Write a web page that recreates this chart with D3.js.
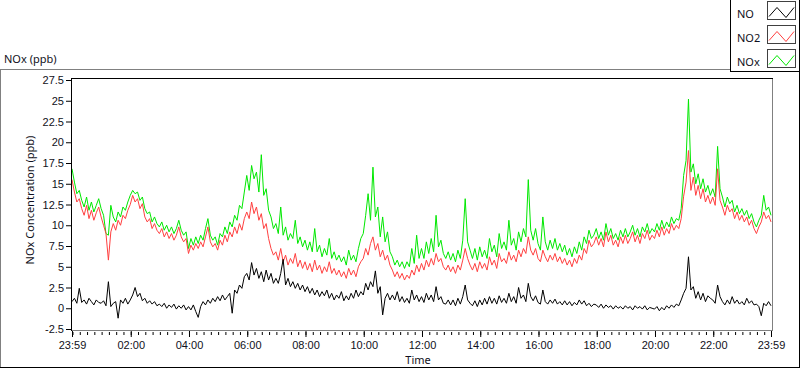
<!DOCTYPE html>
<meta charset="utf-8">
<style>
  body { margin: 0; background: #ffffff; }
  svg { display: block; font-family: "Noto Sans", "Open Sans", sans-serif; }
  .tick text { font-size: 11px; fill: #101020; }
  .lbl { font-size: 11px; fill: #101020; }
</style>
<body>
<script src="https://cdnjs.cloudflare.com/ajax/libs/d3/7.8.5/d3.min.js"></script>
<script>
// readings every 5 minutes from 23:59, one row per hour
var stepMinutes = 5;

var no = [
  0.8, 1.2, 0.6, 2.4, 0.7, 1.0, 0.5, 1.2, 0.8, 0.4, 1.0, 0.7,
  0.6, 0.9, 0.3, 3.2, 0.2, 0.6, 0.8, -1.2, 1.0, 0.6, 1.2, 0.5,
  1.0, 1.6, 2.5, 1.4, 1.8, 0.9, 1.2, 0.6, 0.9, 0.5, 0.8, 0.3,
  0.5, 0.2, 0.6, 0.0, 0.4, 0.1, 0.5, -0.1, 0.3, 0.0, 0.4, -0.2,
  0.2, -0.2, 0.4, -0.4, -1.1, 0.2, 0.8, 0.4, 1.0, 0.6, 1.2, 0.8,
  1.4, 0.9, 1.6, 1.0, 1.4, 1.8, -0.6, 2.2, 1.8, 2.8, 2.4, 3.8,
  4.2, 3.4, 5.5, 4.0, 4.8, 3.6, 4.4, 3.2, 4.6, 3.4, 4.2, 3.0,
  3.6, 3.0, 4.2, 5.9, 2.8, 3.6, 2.6, 3.2, 2.4, 3.0, 2.2, 2.8,
  2.0, 2.6, 1.8, 2.4, 1.6, 2.2, 1.4, 2.0, 1.5, 2.2, 1.2, 1.8,
  1.0, 1.6, 1.2, 2.0, 0.9, 1.5, 1.0, 1.8, 1.2, 2.2, 1.4, 2.0,
  1.6, 3.0, 2.2, 3.2, 2.6, 4.5, 1.8, 2.6, -0.8, 1.2, 1.8, 1.0,
  1.6, 1.0, 2.0, 0.8, 1.4, 0.7, 1.2, 0.6, 2.2, 1.0, 1.6, 0.8,
  1.4, 0.7, 1.8, 1.0, 1.6, 0.8, 2.6, 1.0, 1.4, 0.6, 0.5, 1.0,
  0.4, 1.0, 0.3, 1.2, 0.5, 1.4, 2.8, 1.0, 0.6, 0.3, 0.9, 0.2,
  1.0, 0.4, 1.2, 0.5, 1.4, 0.6, 1.2, 0.5, 1.5, 0.7, 1.2, 0.6,
  1.8, 0.8, 1.4, 0.6, 2.5, 1.2, 1.6, 0.8, 3.0, 1.4, 0.9, 1.5,
  0.7, 0.5, 2.2, 0.8, 0.5, 1.0, 0.6, 1.1, 0.5, 0.8, 0.4, 0.9,
  0.4, 0.8, 0.3, 0.7, 0.4, 1.0, 0.5, 0.9, 0.3, 0.6, 0.2, 0.5,
  0.4, 0.1, 0.5, 0.0, 0.4, 0.1, 0.3, -0.1, 0.3, 0.0, 0.2, -0.1,
  0.3, 0.0, 0.2, -0.2, 0.3, 0.0, 0.2, -0.1, 0.3, -0.2, 0.1, 0.0,
  -0.1, 0.2, -0.3, 0.1, -0.2, 0.3, 0.0, 0.4, 0.1, 0.5, 0.3, 1.0,
  1.8, 2.4, 6.2, 2.2, 2.6, 1.2, 2.0, 1.0, 1.8, 0.8, 1.5, 1.2,
  1.0, 0.6, 2.8, 1.4, 0.8, 0.4, 1.0, 0.5, 1.4, 0.6, 1.0, 0.5,
  0.8, 0.4, 1.2, 0.6, 0.9, 0.4, 0.5, 0.2, -0.9, 0.6, 0.3, 0.8,
  0.3
];

var no2 = [
  15.5, 14.0, 12.8, 13.2, 12.0, 11.2, 12.4, 10.8, 11.8, 10.6, 11.5, 12.2,
  11.0, 10.0, 9.0, 5.8, 9.2, 10.2, 9.4, 10.6, 10.0, 11.2, 10.8, 11.8,
  12.5, 13.6, 12.8, 13.2, 12.0, 12.6, 11.0, 10.4, 10.8, 9.6, 10.2, 9.4,
  9.0, 9.6, 8.6, 9.2, 8.4, 9.0, 8.2, 8.8, 9.8, 8.6, 8.0, 8.4,
  6.6, 7.6, 7.0, 7.8, 7.2, 8.0, 7.4, 8.6, 9.8, 8.0, 7.4, 7.8,
  7.0, 8.2, 7.6, 8.8, 8.0, 9.2, 8.6, 9.8, 9.0, 10.2, 9.4, 10.8,
  11.6, 10.8, 12.8, 11.4, 12.2, 10.6, 11.4, 9.6, 10.2, 8.4, 7.2, 6.4,
  6.8, 5.8, 7.2, 5.6, 6.4, 5.2, 6.0, 5.4, 6.6, 5.0, 5.8, 4.8,
  5.6, 4.6, 5.4, 4.4, 5.8, 4.6, 5.2, 4.2, 5.0, 4.4, 5.6, 4.2,
  4.8, 4.0, 4.6, 3.8, 4.4, 3.6, 4.8, 4.0, 4.6, 3.8, 5.0, 5.6,
  6.0, 7.2, 6.4, 7.8, 8.6, 7.0, 7.8, 6.2, 7.0, 5.8, 6.4, 5.2,
  4.6, 3.8, 4.4, 3.6, 4.2, 3.4, 4.0, 3.6, 4.6, 4.0, 5.2, 4.4,
  5.4, 4.6, 5.8, 5.0, 6.0, 5.2, 6.6, 5.6, 6.0, 5.0, 4.6, 5.2,
  4.4, 5.0, 4.2, 5.2, 4.6, 5.8, 7.2, 6.0, 5.2, 4.6, 5.4, 4.4,
  5.6, 4.8, 5.4, 4.6, 6.2, 5.2, 5.8, 4.8, 6.6, 5.6, 6.0, 5.4,
  6.8, 5.8, 6.4, 5.6, 7.0, 6.2, 7.2, 6.6, 8.6, 7.0, 6.4, 7.2,
  6.0, 5.6, 7.0, 6.2, 5.6, 6.4, 5.8, 6.6, 5.6, 6.2, 5.4, 6.0,
  5.2, 5.8, 5.0, 6.0, 5.4, 6.4, 5.8, 7.2, 6.6, 8.2, 7.4, 7.8,
  8.6, 7.6, 8.4, 7.4, 9.2, 8.0, 8.8, 7.6, 8.2, 7.4, 8.6, 7.8,
  8.8, 7.8, 8.4, 9.2, 8.0, 8.8, 7.8, 9.0, 8.4, 9.4, 8.2, 8.8,
  8.4, 9.4, 8.6, 9.8, 8.8, 9.6, 9.0, 10.2, 9.4, 10.0, 9.6, 10.8,
  13.5, 15.2, 19.0, 14.2, 15.8, 13.6, 14.8, 13.2, 14.4, 12.8, 13.6, 12.6,
  13.4, 12.4, 16.8, 13.0, 12.2, 11.2, 12.4, 11.6, 12.0, 10.8, 11.6, 10.6,
  11.2, 10.4, 11.0, 10.0, 10.6, 9.6, 9.0, 9.8, 10.4, 11.6, 10.8, 11.2,
  10.4
];

var nox = [
  16.8, 15.2, 13.8, 14.2, 13.0, 12.2, 13.4, 11.8, 12.8, 11.6, 12.4, 13.2,
  12.0, 11.2, 9.0, 8.8, 12.4, 11.0, 10.4, 11.6, 11.0, 12.2, 11.8, 12.8,
  13.6, 14.2, 13.8, 14.0, 13.0, 13.4, 12.0, 11.4, 11.6, 10.4, 11.0, 10.2,
  9.8, 10.4, 9.4, 10.0, 9.2, 9.8, 9.0, 9.6, 10.6, 9.4, 8.8, 9.2,
  7.2, 8.4, 7.6, 8.6, 7.8, 8.8, 8.2, 9.6, 10.8, 8.8, 8.2, 8.6,
  7.6, 9.0, 8.6, 9.8, 9.0, 10.4, 9.8, 11.2, 10.6, 12.4, 12.0, 14.0,
  16.0, 14.2, 17.2, 15.6, 16.4, 14.0, 18.5, 13.6, 14.4, 11.8, 11.0, 9.6,
  10.2, 9.0, 12.2, 8.8, 9.8, 8.2, 9.0, 8.4, 10.6, 7.8, 8.6, 7.4,
  8.2, 7.0, 8.0, 6.8, 9.6, 6.8, 7.6, 6.2, 7.2, 6.4, 8.4, 6.0,
  6.8, 5.8, 6.4, 5.6, 6.2, 5.2, 7.0, 5.8, 6.4, 5.6, 7.2, 8.4,
  9.0, 11.2, 13.8, 10.6, 17.0, 11.0, 12.2, 8.6, 11.0, 8.0, 9.2, 6.8,
  6.2, 5.2, 5.8, 5.0, 5.6, 4.8, 5.6, 5.0, 7.2, 5.4, 8.8, 6.0,
  7.2, 6.0, 8.0, 6.6, 8.4, 6.8, 11.2, 7.4, 8.2, 6.6, 6.0, 6.8,
  5.8, 6.6, 5.6, 7.0, 6.0, 8.2, 13.2, 8.0, 7.0, 6.0, 7.2, 5.8,
  7.4, 6.2, 7.0, 6.0, 8.4, 6.8, 7.6, 6.2, 9.0, 7.2, 8.0, 7.0,
  10.6, 7.6, 8.4, 7.0, 9.2, 8.0, 9.6, 8.6, 15.5, 9.4, 8.2, 9.6,
  7.8, 7.0, 11.0, 8.0, 7.0, 8.2, 7.2, 8.4, 7.0, 7.8, 6.8, 7.6,
  6.4, 7.2, 6.2, 7.4, 6.6, 8.0, 7.0, 8.6, 7.8, 9.4, 8.4, 8.8,
  9.6, 8.4, 9.2, 8.2, 10.2, 8.8, 9.6, 8.4, 9.0, 8.2, 9.4, 8.6,
  9.6, 8.6, 9.2, 10.0, 8.8, 9.6, 8.6, 9.8, 9.2, 10.2, 9.0, 9.6,
  9.2, 10.2, 9.4, 10.6, 9.6, 10.4, 9.8, 11.0, 10.2, 10.8, 10.6, 12.0,
  16.0, 17.8, 25.2, 16.4, 17.4, 15.0, 16.2, 14.4, 15.6, 14.0, 14.8, 13.6,
  14.4, 13.4, 19.5, 14.4, 13.4, 12.2, 13.4, 12.6, 13.0, 11.6, 12.4, 11.4,
  12.0, 11.2, 11.8, 10.8, 11.4, 10.4, 9.8, 10.6, 11.2, 13.6, 11.8, 12.2,
  11.2
];

var yTicks = [-2.5, 0, 2.5, 5, 7.5, 10, 12.5, 15, 17.5, 20, 22.5, 25, 27.5];
var xLabelHours = [2, 4, 6, 8, 10, 12, 14, 16, 18, 20, 22];
var seriesNames = ["NO", "NO2", "NOx"];
var seriesColors = ["#000000", "#ff4040", "#00e800"];

var width = 800, height = 369;

var t0 = new Date(2020, 0, 1, 23, 59);
var t1 = new Date(2020, 0, 2, 23, 59);
var day = new Date(2020, 0, 2);

var svg = d3.select("body").append("svg")
    .attr("width", width)
    .attr("height", height);

var x = d3.scaleTime().domain([t0, t1]).range([72, 771]);
var y = d3.scaleLinear().domain([-2.5, 27.5]).range([329, 80]);

// outer panel border
svg.append("line").attr("x1", 0).attr("x2", 731).attr("y1", 69.5).attr("y2", 69.5).style("stroke", "#808080");
svg.append("line").attr("x1", 0.5).attr("x2", 0.5).attr("y1", 69).attr("y2", 368).style("stroke", "#808080");
svg.append("line").attr("x1", 0).attr("x2", 800).attr("y1", 367.5).attr("y2", 367.5).style("stroke", "#000");
svg.append("line").attr("x1", 799.5).attr("x2", 799.5).attr("y1", 0).attr("y2", 368).style("stroke", "#000");

// legend
var legend = svg.append("g");
legend.append("rect").attr("x", 731).attr("y", 0).attr("width", 68).attr("height", 71).style("fill", "#fff");
legend.append("line").attr("x1", 730.5).attr("x2", 730.5).attr("y1", 0).attr("y2", 72).style("stroke", "#000");
legend.append("line").attr("x1", 730).attr("x2", 800).attr("y1", 71.5).attr("y2", 71.5).style("stroke", "#000");

seriesNames.forEach(function(name, i) {
  var top = 1.5 + i * 24;
  var g = legend.append("g");
  g.append("text").attr("class", "lbl").attr("x", 737).attr("y", top + 16).text(name);
  g.append("rect").attr("x", 767.5).attr("y", top).attr("width", 28).attr("height", 18)
    .style("fill", "#fff").style("stroke", "#404040");
  g.append("path")
    .attr("d", d3.line()([[769, top + 15], [777, top + 6], [786, top + 16], [794, top + 6]]))
    .style("fill", "none").style("stroke", seriesColors[i]);
});

svg.append("text").attr("class", "lbl").attr("x", 4).attr("y", 63).text("NOx (ppb)");

// plot frame
svg.append("line").attr("x1", 71).attr("x2", 773).attr("y1", 78.5).attr("y2", 78.5).style("stroke", "#000");
svg.append("line").attr("x1", 71.5).attr("x2", 71.5).attr("y1", 78).attr("y2", 331).style("stroke", "#000");
svg.append("line").attr("x1", 772.5).attr("x2", 772.5).attr("y1", 79).attr("y2", 331).style("stroke", "#808080");
svg.append("line").attr("x1", 72).attr("x2", 773).attr("y1", 330.5).attr("y2", 330.5).style("stroke", "#808080");

// y axis
var yAxis = svg.append("g")
    .attr("transform", "translate(71,0)")
    .call(d3.axisLeft(y).tickValues(yTicks).tickSize(5).tickPadding(2).tickFormat(function(d) { return String(d); }));
yAxis.select(".domain").remove();

// x axis: minor ticks every 15 minutes, labelled ticks every 2 hours
var minor = d3.timeMinute.every(15).range(new Date(2020, 0, 2, 0, 0), t1);
var xMinor = svg.append("g")
    .attr("transform", "translate(0,331)")
    .call(d3.axisBottom(x).tickValues(minor).tickSize(3).tickFormat(""));
xMinor.select(".domain").remove();
xMinor.selectAll(".tick line").attr("y1", 1).attr("y2", 4);

var major = [t0].concat(xLabelHours.map(function(h) { return d3.timeHour.offset(day, h); })).concat([t1]);
var xAxis = svg.append("g")
    .attr("transform", "translate(0,331)")
    .call(d3.axisBottom(x).tickValues(major).tickSize(6).tickPadding(4).tickFormat(d3.timeFormat("%H:%M")));
xAxis.select(".domain").remove();

svg.append("text").attr("class", "lbl").attr("x", 418).attr("y", 364)
   .attr("text-anchor", "middle").text("Time");

svg.append("text").attr("class", "lbl")
   .attr("transform", "translate(34,200) rotate(-90)")
   .attr("text-anchor", "middle").text("NOx Concentration (ppb)");

// traces
svg.append("clipPath").attr("id", "clip").append("rect")
   .attr("x", 72).attr("y", 79).attr("width", 700).attr("height", 251);

var line = d3.line()
    .x(function(d, i) { return x(d3.timeMinute.offset(t0, i * stepMinutes)); })
    .y(function(d) { return y(d); });

var traces = svg.append("g").attr("clip-path", "url(#clip)");
[nox, no2, no].forEach(function(series, k) {
  traces.append("path")
    .datum(series)
    .attr("d", line)
    .style("fill", "none")
    .style("stroke", seriesColors[2 - k])
    .style("stroke-width", 1);
});
</script>
</body>
</html>
